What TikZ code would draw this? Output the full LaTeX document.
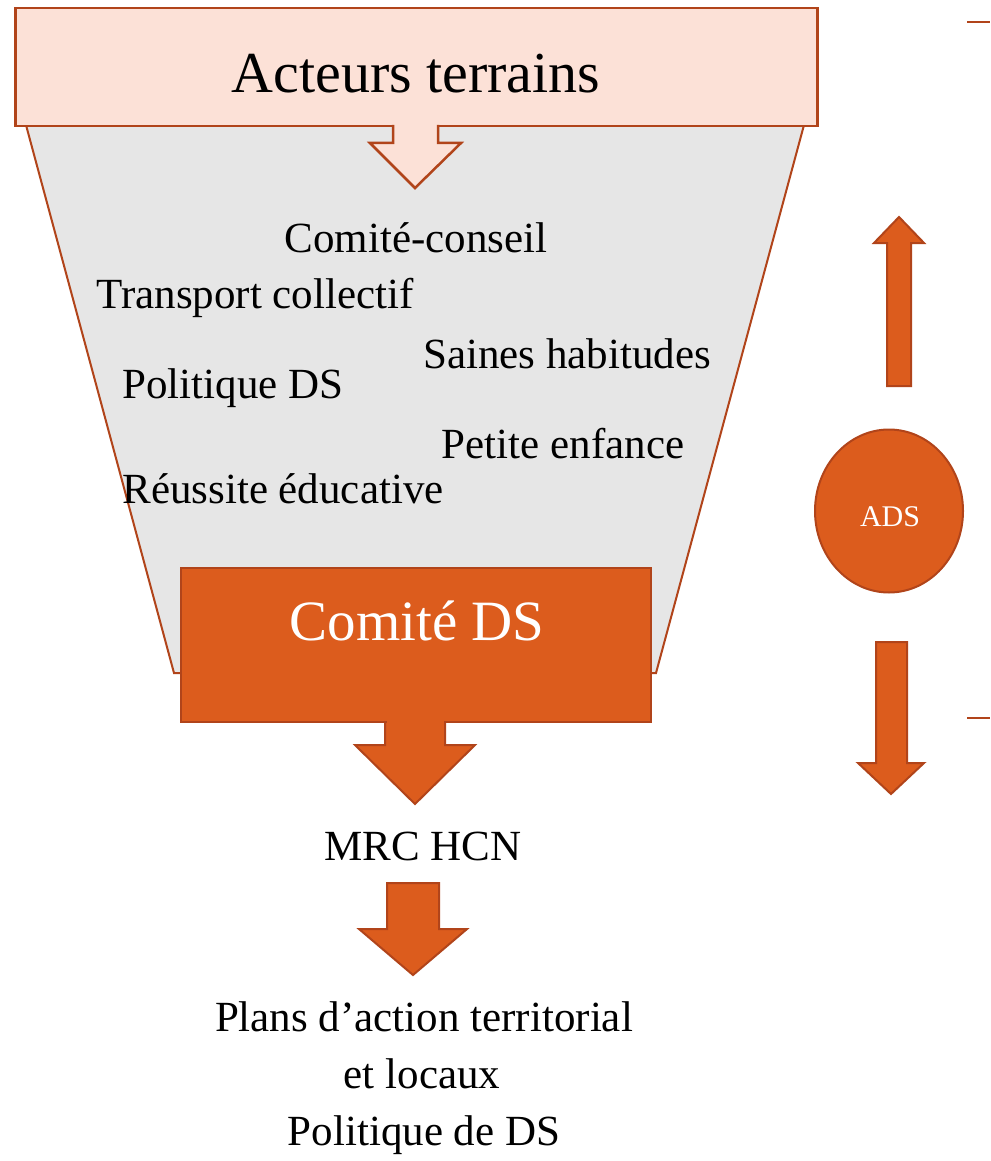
\documentclass[tikz,border=0pt]{standalone}
\usepackage{fontspec}
\setmainfont{Liberation Serif}
\usetikzlibrary{shapes.geometric}
\definecolor{orfill}{HTML}{DC5C1D}
\definecolor{ordraw}{HTML}{B1441A}
\definecolor{peach}{HTML}{FCE1D7}
\definecolor{funnelgray}{HTML}{E6E6E6}
\tikzset{
  shapeline/.style={draw=ordraw, line width=2.5pt, line join=miter},
  orshape/.style={shapeline, fill=orfill},
  bodytext/.style={anchor=base, inner sep=0pt, font=\fontsize{43}{43}\selectfont},
  bigtext/.style={anchor=base, inner sep=0pt, font=\fontsize{58}{58}\selectfont},
}
\begin{document}
\begin{tikzpicture}[x=1pt,y=-1pt]
\useasboundingbox (0,0) rectangle (990,1161);
\fill[white] (0,0) rectangle (990,1161);

% funnel
\draw[shapeline, line width=2pt, fill=funnelgray] (26,125) -- (804,125) -- (656,673) -- (174,673) -- cycle;

% top box
\node[shapeline, fill=peach, anchor=north west, minimum width=802pt, minimum height=118pt, inner sep=0pt] (acteursbox) at (14,7) {};
\node[bigtext] (acteurs) at (416,93) {Acteurs terrains};

% peach arrow
\fill[peach] (393,121) -- (393,143) -- (370,143) -- (415,188) -- (461,143) -- (438,143) -- (438,121) -- cycle;
\draw[shapeline] (393,125) -- (393,143) -- (370,143) -- (415,188) -- (461,143) -- (438,143) -- (438,125);

% funnel texts
\node[bodytext] (conseil) at (416,252) {Comité-conseil};
\node[bodytext] (transport) at (255,308) {Transport collectif};
\node[bodytext] (saines) at (567,368) {Saines habitudes};
\node[bodytext] (politique) at (233,398) {Politique DS};
\node[bodytext] (enfance) at (563,458) {Petite enfance};
\node[bodytext] (reussite) at (283,503) {Réussite éducative};

% Comité DS box + arrow
\draw[orshape, line width=2pt] (385,715) -- (385,745) -- (355,745) -- (415,804) -- (475,745) -- (445,745) -- (445,715);
\node[orshape, line width=2pt, anchor=north west, minimum width=470pt, minimum height=154pt, inner sep=0pt] (comitebox) at (180,567) {};
\fill[orfill] (386.5,715) rectangle (443.5,723);
\node[bigtext, white, font=\fontsize{57}{57}\selectfont] (comite) at (417,640) {Comité DS};

% MRC HCN
\node[bodytext] (mrc) at (423,860) {MRC HCN};
\draw[orshape, line width=2pt] (387,883) -- (439,883) -- (439,929) -- (467,929) -- (413,975) -- (359,929) -- (387,929) -- cycle;

\node[bodytext] (plans) at (424,1031) {Plans d’action territorial};
\node[bodytext] (locaux) at (422,1088) {et locaux};
\node[bodytext] (politiqueds) at (424,1145) {Politique de DS};

% right side
\draw[orshape, line width=2pt] (887,386) -- (887,243) -- (874,243) -- (899,217) -- (924,243) -- (911,243) -- (911,386) -- cycle;
\node[ellipse, orshape, line width=2pt, minimum width=148pt, minimum height=163pt, inner sep=0pt] (ads) at (889,511) {};
\node[anchor=base, white, inner sep=0pt, font=\fontsize{30}{30}\selectfont] (adslabel) at (890,526) {ADS};
\draw[orshape, line width=2pt] (876,642) -- (907,642) -- (907,763) -- (924,763) -- (891,794) -- (858,763) -- (876,763) -- cycle;

% edge marks
\draw[ordraw, line width=2.5pt] (967,22) -- (990,22);
\draw[ordraw, line width=2.5pt] (967,718) -- (990,718);
\end{tikzpicture}
\end{document}
